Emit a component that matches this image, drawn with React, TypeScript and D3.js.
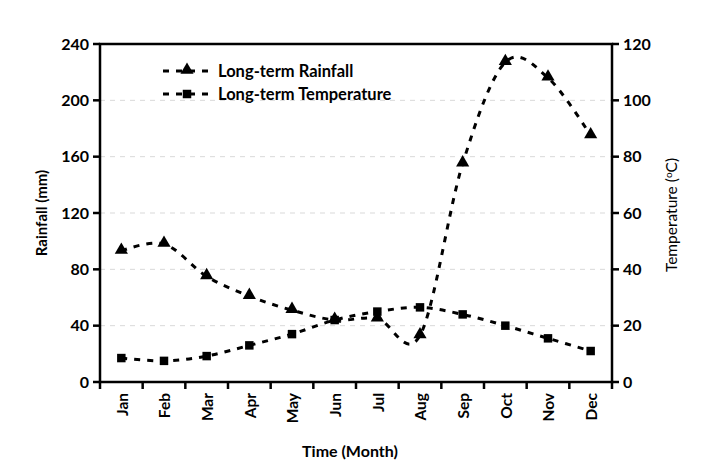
import React from "react";
import * as d3 from "d3";

const months = ["Jan","Feb","Mar","Apr","May","Jun","Jul","Aug","Sep","Oct","Nov","Dec"];
const rainfall = [93, 98, 75, 61, 51, 44, 45, 33, 155, 227, 216, 175];
const temperature = [8.5, 7.5, 9.2, 13, 17, 22, 25, 26.5, 24, 20, 15.5, 11];
const rainTicks = [0, 40, 80, 120, 160, 200, 240];
const tempTicks = [0, 20, 40, 60, 80, 100, 120];

const W = 705, H = 463;
const L = 100, R = 612, T = 44, B = 382;
const FONT = "Lato, 'Open Sans', sans-serif";

export default function App() {
  const x = d3.scaleBand<string>().domain(months).range([L, R]);
  const yR = d3.scaleLinear().domain([0, 240]).range([B, T]);
  const yT = d3.scaleLinear().domain([0, 120]).range([B, T]);
  const cx = (m: string) => (x(m) as number) + x.bandwidth() / 2;
  const curve = d3.curveCardinal.tension(0);
  const rainLine = d3.line<number>().x((_, i) => cx(months[i])).y(d => yR(d)).curve(curve);
  const tempLine = d3.line<number>().x((_, i) => cx(months[i])).y(d => yT(d)).curve(curve);
  const tri = d3.symbol().type(d3.symbolTriangle).size(75)();
  const sq = d3.symbol().type(d3.symbolSquare).size(72)();
  const xTicks = d3.range(months.length + 1).map(i => L + i * x.step());

  return (
    <svg width={W} height={H} style={{ position: "absolute", left: 0, top: 0, background: "#fff" }}>
      <rect width={W} height={H} fill="#fff" />
      {rainTicks.slice(1, -1).map(t => (
        <line key={t} x1={L} x2={R} y1={yR(t)} y2={yR(t)} stroke="#d9d9d9" strokeWidth={1} strokeDasharray="5,5" />
      ))}
      <path d={rainLine(rainfall) || ""} fill="none" stroke="#000" strokeWidth={3} strokeDasharray="6,7" />
      <path d={tempLine(temperature) || ""} fill="none" stroke="#000" strokeWidth={3} strokeDasharray="6,7" />
      {rainfall.map((v, i) => (
        <path key={i} d={tri || ""} transform={`translate(${cx(months[i])},${yR(v) - 1})`} fill="#000" />
      ))}
      {temperature.map((v, i) => (
        <path key={i} d={sq || ""} transform={`translate(${cx(months[i])},${yT(v)})`} fill="#000" />
      ))}
      <rect x={L} y={T} width={R - L} height={B - T} fill="none" stroke="#000" strokeWidth={2.5} />
      {rainTicks.map(t => (
        <g key={t}>
          <line x1={L - 7} x2={L} y1={yR(t)} y2={yR(t)} stroke="#000" strokeWidth={2.5} />
          <text x={L - 11} y={yR(t)} dy="0.35em" textAnchor="end" fontFamily={FONT} fontWeight="bold" fontSize={16}>{t}</text>
        </g>
      ))}
      {tempTicks.map(t => (
        <g key={t}>
          <line x1={R} x2={R + 7} y1={yT(t)} y2={yT(t)} stroke="#000" strokeWidth={2.5} />
          <text x={R + 11} y={yT(t)} dy="0.35em" textAnchor="start" fontFamily={FONT} fontWeight="bold" fontSize={16}>{t}</text>
        </g>
      ))}
      {xTicks.map((p, i) => (
        <line key={i} x1={p} x2={p} y1={B} y2={B + 7} stroke="#000" strokeWidth={2.5} />
      ))}
      {months.map(m => (
        <text key={m} transform={`translate(${cx(m) + 1},${B + 11}) rotate(-90)`} dy="0.35em" textAnchor="end"
          fontFamily={FONT} fontWeight="bold" fontSize={15.5}>{m}</text>
      ))}
      <text x={350} y={457} textAnchor="middle" fontFamily={FONT} fontWeight="bold" fontSize={16}>Time (Month)</text>
      <text transform={`translate(47,${(T + B) / 2}) rotate(-90)`} textAnchor="middle" fontFamily={FONT} fontWeight="bold" fontSize={15}>Rainfall (mm)</text>
      <text transform={`translate(677,${(T + B) / 2 + 2}) rotate(-90)`} textAnchor="middle" fontFamily={FONT} fontSize={15.5}>
        Temperature (<tspan dy="-5" fontSize={10}>o</tspan><tspan dy="5">C)</tspan>
      </text>
      <g>
        <line x1={163} x2={211} y1={71} y2={71} stroke="#000" strokeWidth={3} strokeDasharray="6,7" />
        <path d={tri || ""} transform={`translate(187,70)`} fill="#000" />
        <text x={218} y={71} dy="0.35em" fontFamily={FONT} fontWeight="bold" fontSize={16.5}>Long-term Rainfall</text>
        <line x1={163} x2={211} y1={94} y2={94} stroke="#000" strokeWidth={3} strokeDasharray="6,7" />
        <path d={sq || ""} transform={`translate(187,94)`} fill="#000" />
        <text x={218} y={94} dy="0.35em" fontFamily={FONT} fontWeight="bold" fontSize={16.5}>Long-term Temperature</text>
      </g>
    </svg>
  );
}
